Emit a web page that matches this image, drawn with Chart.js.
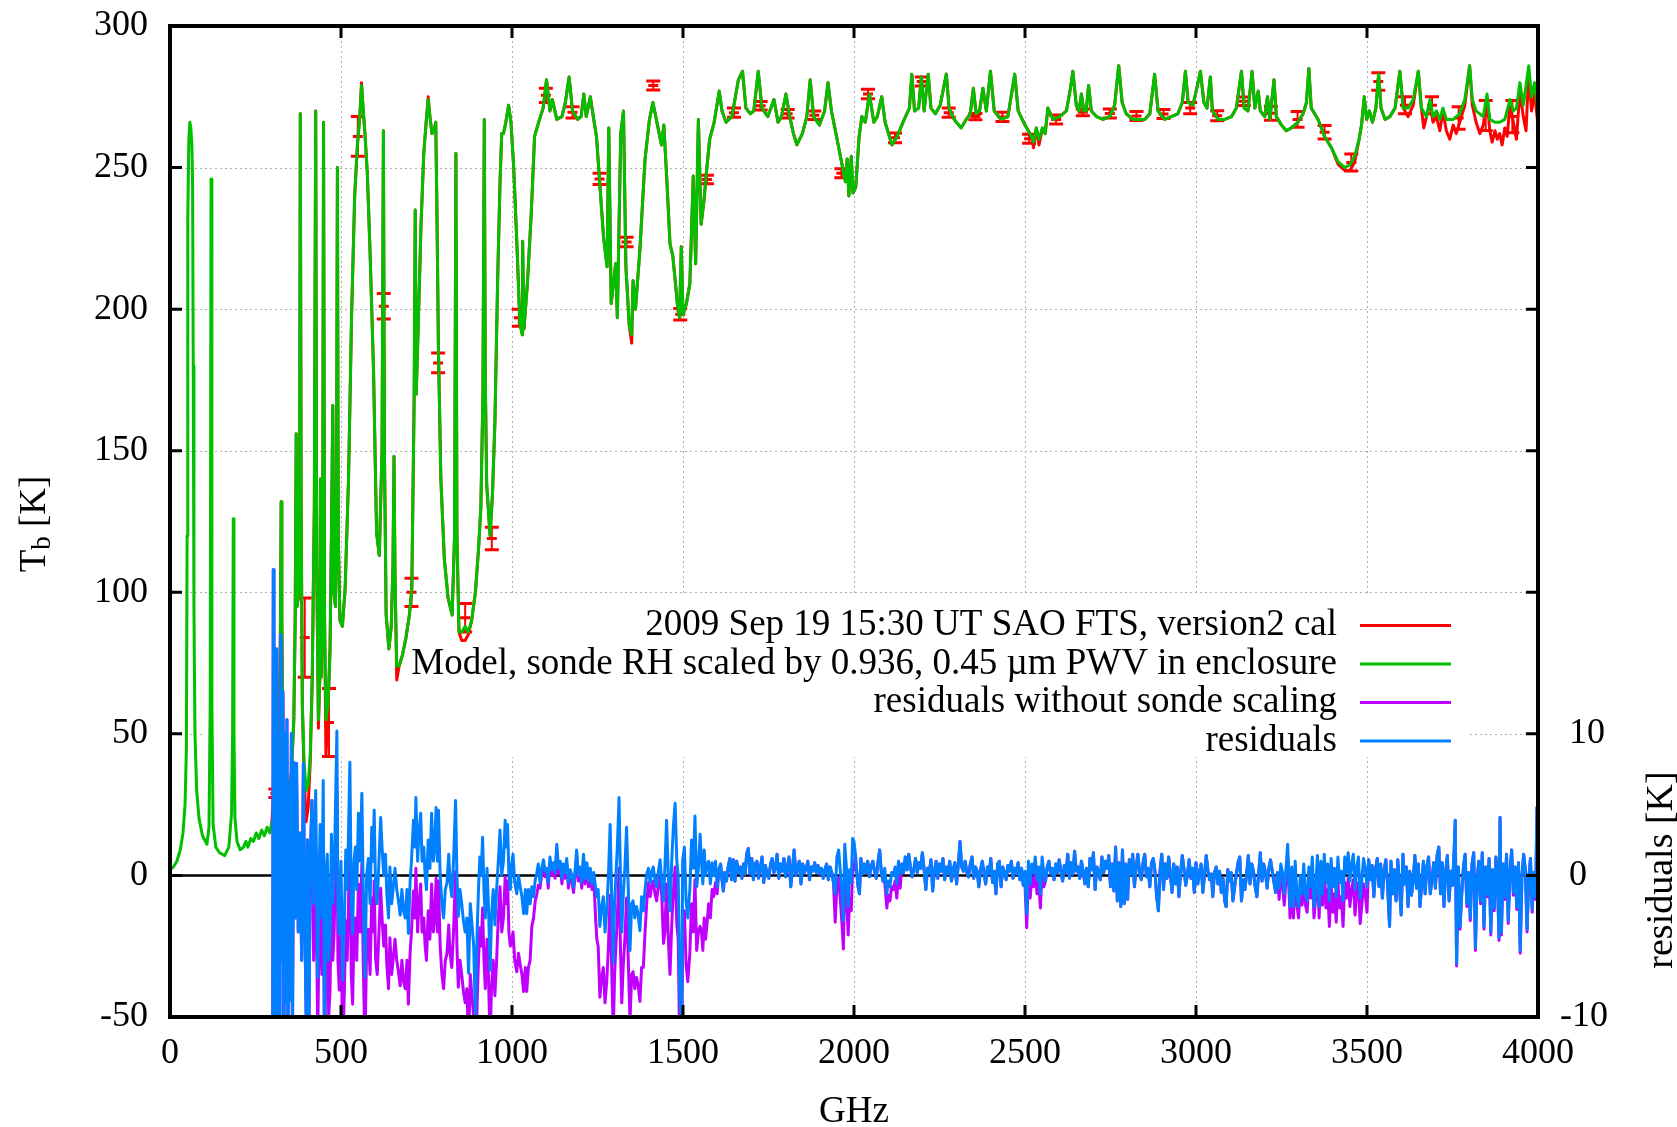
<!DOCTYPE html>
<html><head><meta charset="utf-8">
<script src="https://cdn.jsdelivr.net/npm/chart.js@4.4.0/dist/chart.umd.min.js"></script>
<style>html,body{margin:0;padding:0;background:#fff;}canvas{display:block;}</style>
</head><body>
<canvas id="c" width="1677" height="1127"></canvas>
<script>
// ---------- tick labels ----------
const xTicks = [0,500,1000,1500,2000,2500,3000,3500,4000];
const yTicks = [-50,0,50,100,150,200,250,300];
const y2Ticks = [-10,0,10];
const legendLabels = [
  "2009 Sep 19 15:30 UT SAO FTS, version2 cal",
  "Model, sonde RH scaled by 0.936, 0.45 \u00b5m PWV in enclosure",
  "residuals without sonde scaling",
  "residuals"
];
// ---------- model brightness temperature [GHz, K] ----------
const modelTb = [
[0,2],[10,3],[20,5],[30,9],[38,15],[44,25],[48,45],[50,120],[52,232],[55,260],[58,266],[61,264],[64,258],[66,245],[68,180],[70,95],[73,50],[78,30],[85,20],[95,14],[108,11],[114,17],[117.5,60],[120,246],[122.5,60],[126,18],[134,10],[145,8],[160,7],[172,10],[180,22],[183,50],[185,126],[187,50],[190,20],[196,12],[205,9],[215,10],[222,12],[228,10],[236,13],[244,12],[252,15],[260,13],[268,16],[276,14],[284,17],[292,15],
[298,19],[304,17],[310,22],[315,28],[320,50],[323,90],[325,132],[327,90],[331,40],[338,28],[346,30],[355,36],[362,55],[366,90],[369,156],[372,95],[376,100],[379,140],[381,269],[383.5,130],[387,60],[392,40],[398,30],[404,32],[410,42],[416,70],[422,130],[426,270],[429,110],[434,55],[438,70],[440,140],[442,70],[446,90],[449,266],[452,90],[456,55],[462,60],[468,80],[472,120],[476,166],[479,100],[484,95],[487,140],[489.5,250],[492,120],[497,90],[504,88],[512,101],[522,140],[531,198],[540,240],[548,258],[555,268],[560,279],[564,272],[570,262],[577,248],[585,220],[595,179],[604,121],[612,113],[620,150],[624,263],[627,150],[632,92],[640,80],[647,88],[652,110],[655,148],[658,105],[663,74],[670,74],[680,78],[690,84],[700,92],[707,101],[714,170],[717,235],[720,170],[726,195],[734,230],[742,255],[749,266],[755,274],[760,268],[766,262],[772,263],[777,266],[780,240],[785,185],[792,140],[802,112],[813,98],[825,92],[832,120],[836,255],[839,120],[845,86],[853,86],[863,88],[872,86],[882,90],[893,100],[902,115],[909,130],[915,170],[919,267],[922,175],[926,138],[936,120],[943,135],[950,160],[958,210],[965,245],[970,262],[975,262],[982,266],[990,272],[997,266],
[1005,250],[1015,221],[1023,195],[1030,191],[1031,224],[1035,193],[1045,209],[1056,233],[1066,261],[1078,266],[1091,271],[1101,281],[1111,270],[1118,274],[1131,267],[1146,268],[1156,273],[1167,282],[1177,270],[1192,267],[1202,268],[1210,276],[1217,268],[1229,275],[1239,267],[1247,261],[1258,242],[1268,225],[1278,215],[1283,264],[1290,202],[1303,216],[1308,197],[1318,262],[1326,270],[1333,215],[1343,194],[1350,191],[1354,210],[1361,200],[1374,221],[1389,253],[1402,267],[1412,273],[1422,267],[1437,258],[1444,265],[1453,245],[1462,223],[1470,219],[1478,209],[1485,200],[1490,197],[1495,222],[1500,198],[1510,202],[1520,209],[1530,247],[1537,216],[1545,267],[1553,230],[1561,238],[1569,249],[1578,260],[1591,266],[1606,277],[1614,270],[1626,266],[1643,268],[1662,281],[1674,284],[1684,271],[1697,269],[1707,270],[1720,284],[1731,271],[1748,268],[1766,274],[1778,266],[1788,268],[1801,276],[1812,268],[1823,262],[1833,258],[1849,262],[1862,268],[1872,281],[1882,268],[1899,265],[1914,270],[1924,280],[1934,270],[1949,261],[1965,251],[1975,245],[1980,253],[1985,240],[1992,254],[1997,241],
[2005,243],[2015,261],[2023,268],[2033,266],[2045,276],[2058,266],[2068,268],[2081,275],[2091,266],[2111,258],[2126,261],[2147,267],[2162,271],[2169,283],[2177,270],[2189,271],[2197,282],[2205,270],[2217,283],[2225,271],[2238,269],[2252,272],[2270,283],[2278,271],[2293,267],[2313,264],[2328,267],[2340,269],[2349,278],[2357,269],[2367,270],[2377,278],[2387,270],[2399,284],[2410,270],[2430,267],[2450,268],[2470,283],[2480,270],[2500,265],[2519,261],[2525,259],[2533,264],[2541,260],[2551,264],[2559,262],[2567,271],[2582,267],[2601,268],[2621,270],[2633,278],[2640,284],[2650,272],[2658,270],[2665,276],[2672,270],[2679,270],[2686,279],[2694,270],[2709,268],[2728,267],[2748,268],[2762,272],[2774,286],[2784,273],[2796,269],[2816,267],[2835,267],[2850,267],[2865,269],[2879,283],[2889,270],[2908,267],[2928,268],[2947,269],[2960,273],[2969,284],[2977,273],[2991,272],
[3004,279],[3013,284],[3023,273],[3032,271],[3042,282],[3048,270],[3065,267],[3084,267],[3104,268],[3118,271],[3126,278],[3133,284],[3141,271],[3152,270],[3164,284],[3172,271],[3182,277],[3188,270],[3201,268],[3209,275],[3216,267],[3228,281],[3235,268],[3250,265],[3264,263],[3279,264],[3298,266],[3313,269],[3323,273],[3330,285],[3337,271],[3357,267],[3376,261],[3396,257],[3416,252],[3435,250],[3450,251],[3464,254],[3477,260],[3484,265],[3492,275],[3499,267],[3507,270],[3516,266],[3526,271],[3534,283],[3541,271],[3553,267],[3567,268],[3582,271],[3596,284],[3606,271],[3620,271],[3635,274],[3650,284],[3659,271],[3674,268],[3684,274],[3693,268],[3703,270],[3713,267],[3722,271],[3732,267],[3752,267],[3771,269],[3786,274],[3800,286],[3808,274],[3819,270],[3840,268],[3851,276],[3859,267],[3874,266],[3888,266],[3903,267],[3918,274],[3928,270],[3937,271],[3947,280],[3957,272],[3973,286],[3981,275],[3990,280],[4000,270]
];
// ---------- measured FTS spectrum [GHz, K] ----------
const measuredTb = [
[298,19],[303,29],[308,26],[312,12],[315,-16],[318,14],[320,50],[323,90],[325,132],[327,90],[331,40],[338,28],[346,30],[355,36],[362,55],[366,90],[369,156],[372,95],[376,100],[379,140],[381,269],[383.5,130],[387,60],[392,36],[398,19],[404,24],[410,40],[416,70],[422,130],[426,270],[429,110],[434,52],[438,70],[440,140],[442,70],[446,90],[449,266],[452,90],[456,42],[462,58],[468,80],[472,120],[476,166],[479,100],[484,95],[487,140],[489.5,250],[492,120],[497,90],[504,88],[512,101],[522,140],[531,198],[540,240],[548,258],[555,268],[560,280],[564,272],[570,262],[577,248],[585,220],[595,179],[604,121],[612,113],[620,150],[624,263],[627,150],[632,92],[640,80],[647,88],[652,110],[655,148],[658,105],[663,69],[670,74],[680,78],[690,84],[700,92],[707,101],[714,170],[717,235],[720,170],[726,195],[734,230],[742,255],[749,266],[755,275],[760,268],[766,262],[772,263],[777,266],[780,240],[785,185],[792,140],[802,112],[813,98],[825,92],[832,120],[836,255],[839,120],[845,86],[853,83],[863,83],[872,85],[882,90],[893,100],[902,115],[909,130],[915,170],[919,267],[922,175],[926,138],[936,120],[943,135],[950,160],[958,210],[965,245],[970,262],[975,262],[982,266],[990,272],[997,266],
[1005,250],[1015,221],[1023,195],[1030,191],[1031,224],[1035,193],[1045,209],[1056,233],[1066,261],[1078,266],[1091,271],[1101,281],[1111,270],[1118,274],[1131,267],[1146,268],[1156,273],[1167,282],[1177,270],[1192,267],[1202,268],[1210,276],[1217,268],[1229,275],[1239,267],[1247,261],[1258,242],[1268,225],[1278,215],[1283,264],[1290,202],[1303,216],[1308,197],[1318,262],[1326,270],[1333,215],[1343,194],[1350,188],[1354,210],[1361,200],[1374,221],[1389,253],[1402,267],[1412,273],[1422,267],[1437,258],[1444,265],[1453,245],[1462,223],[1470,219],[1478,209],[1485,200],[1490,197],[1495,222],[1500,198],[1510,202],[1520,209],[1530,247],[1537,216],[1545,267],[1553,230],[1561,238],[1569,249],[1578,260],[1591,266],[1606,277],[1614,270],[1626,266],[1643,268],[1662,281],[1674,284],[1684,271],[1697,269],[1707,270],[1720,284],[1731,271],[1748,268],[1766,274],[1778,266],[1788,268],[1801,276],[1812,268],[1823,262],[1833,258],[1849,262],[1862,268],[1872,281],[1882,268],[1899,265],[1914,270],[1924,280],[1934,270],[1949,261],[1965,251],[1975,245],[1980,253],[1985,240],[1992,254],[1997,241],
[2005,243],[2015,261],[2023,268],[2033,266],[2045,276],[2058,266],[2068,268],[2081,275],[2091,266],[2111,258],[2126,261],[2147,267],[2162,271],[2169,283],[2177,270],[2189,271],[2197,282],[2205,270],[2217,283],[2225,271],[2238,269],[2252,272],[2270,283],[2278,271],[2293,267],[2313,264],[2328,267],[2340,269],[2349,278],[2357,269],[2367,270],[2377,278],[2387,270],[2399,284],[2410,270],[2430,267],[2450,268],[2470,283],[2480,270],[2500,265],[2519,261],[2525,257],[2533,264],[2541,258],[2551,264],[2559,262],[2567,271],[2582,267],[2601,268],[2621,270],[2633,278],[2640,284],[2650,272],[2658,270],[2665,276],[2672,270],[2679,270],[2686,279],[2694,270],[2709,268],[2728,267],[2748,268],[2762,272],[2774,286],[2784,273],[2796,269],[2816,267],[2835,267],[2850,267],[2865,269],[2879,283],[2889,270],[2908,267],[2928,268],[2947,269],[2960,273],[2969,284],[2977,273],[2991,272],
[3004,279],[3013,284],[3023,273],[3032,271],[3042,282],[3048,270],[3065,267],[3084,267],[3104,268],[3118,271],[3126,278],[3133,284],[3141,271],[3152,270],[3164,284],[3172,271],[3182,277],[3188,270],[3201,268],[3209,275],[3216,267],[3228,281],[3235,268],[3250,265],[3264,263],[3279,264],[3298,266],[3313,269],[3323,273],[3330,285],[3337,271],[3357,267],[3376,261],[3396,257],[3416,251],[3435,249],[3450,249],[3464,252],[3477,260],[3484,265],[3492,275],[3499,267],[3507,270],[3516,266],[3526,271],[3534,283],[3541,271],[3553,267],[3567,268],[3582,271],[3596,284],[3606,271],[3620,268],[3635,272],[3650,284],[3659,271],[3666,264],[3674,268],[3684,273],[3693,266],[3703,268],[3713,263],[3722,270],[3732,263],[3742,260],[3752,265],[3761,262],[3771,266],[3786,272],[3800,286],[3808,272],[3819,266],[3830,262],[3840,265],[3851,274],[3859,263],[3866,259],[3874,263],[3881,260],[3888,262],[3895,258],[3903,264],[3910,261],[3918,272],[3928,266],[3937,260],[3947,277],[3957,268],[3965,263],[3973,284],[3981,270],[3990,276],[4000,265]
];
// ---------- measurement error bars [GHz, K, +/-K] ----------
const errorBars = [
[308,29,1.5],[394,84,14],[465,54,12],[549,261,7],[625,201,4.5],[706,100,5],[784,181,3.5],[863,91,5],[941,119,4],[1020,197,3],[1099,275.5,2.5],[1177,269.5,2],[1256,246,2],[1335,223.7,1.7],[1413,279,1.6],[1492,198.2,2],[1570,245.8,1.5],[1649,269.4,1.6],[1727,271.8,1.5],[1806,269,1.5],[1884,268.5,1.5],[1963,248,1.6],[2041,276,1.7],[2120,260.5,1.7],[2198,280.4,1.6],[2277,269.4,1.6],[2355,268,1.1],[2434,267.9,1.6],[2512,260.2,1.6],[2591,267,1.6],[2669,269.5,1.2],[2748,269.1,1.6],[2826,268.2,1.6],[2905,268.9,1.6],[2983,271,2],[3062,268.3,1.8],[3140,273.4,1.5],[3219,269.2,2.5],[3297,267,2.8],[3376,262.5,2.4],[3454,251.8,3],[3533,280.4,3.1],[3611,272,3],[3690,272,3],[3768,267.5,4],[3847,268.4,5.3],[3925,268,5.7]
];
// ---------- residuals (right axis) [GHz, K] ----------
const residuals = [
[300,-15],[302,21.6],[304,-15],[307,12],[309,-15],[312,16],[315,-12],[318,8],[321,-15],[324,17],[327,-6],[330,13],[333,-15],[336,10],[339,-9],[342,11],[345,-15],[348,6.5],[351,-8.8],[355,10],[358,-12],[362,8],[366,-3],[370,7.9],[375,-4],[380,3],[385,-6],[390,7.9],[394,-3],[398,-9.8],[402,2.5],[406,-12],[410,1],[415,5.3],
[420,-2],[426,6],[432,-7.2],[436,0],[439,3.6],[444,-3],[448,6.7],[452,-12],[456,0],[460,1.5],[464,-6],[468,-4.1],[472,2.9],[476,-2],[480,0],[484,5],[488,10.2],[491,-2],[495,-4.1],
[500,1],[505,-7.4],[510,-3],[514,1.8],[518,-1],[522,3],[526,8],[530,-2],[534,-4.1],[538,1],[542,2],[546,-1],[551,4.4],[556,1],[561,5.8],[565,-1],[570,-7.2],[575,0],[580,1.2],[585,-2],[590,3.4],[594,1],[597,4.6],[601,-0.8],[606,-2],[611,1],[616,4.1],[620,2],[625,0],[630,1.5],[634,-1.3],[639,-3],[643,0.6],[648,-2],[653,-0.8],[658,0.5],[663,-1],[668,-1.8],[673,-2.8],[678,-1],[683,-2.5],[688,-3],[693,-1],[697,-4.1],[702,-0.5],[706,1],[712,3.9],[716,2],[719,5.5],[724,1],[728,3],[733,4.4],[737,1],[742,2],[746,0],[750,-1],[755,2.5],[760,0.5],[765,4.4],[770,1],[774,2],[778,4.8],[782,1],[785,4.6],[790,0],[795,-2],[800,-3],[805,-1],[810,-0.5],[815,1.5],[819,-0.5],[824,-1.5],[829,1],[835,5.3],[839,0],[843,-2.9],[848,-1],[853,-2],[858,-3.2],[863,-4],[868,-3],[873,-6.9],[878,-2],[883,-3.5],[888,-5],[893,-9.8],[898,-4],[902,-1],[906,1.3],[910,0],[914,2.7],[918,-1],[922,-3],[927,0.5],[931,-2],[936,-6.7],[940,-3],[945,-1],[950,-3.5],[955,-1],
[960,1],[965,3.2],[970,0],[975,1],[980,3.9],[984,2],[987,3.6],[991,0],[995,-1],
[999,0.8],[1003,1.5],[1008,-0.5],[1014,-1.3],[1019,0],[1024,-0.8],[1029,-1.5],[1034,-2.7],[1039,-1],[1043,-2.7],[1048,-1],[1053,-2],[1058,-0.8],[1063,-1.5],[1068,-0.3],[1072,0.1],[1077,0.8],
[1082,-0.5],[1087,0.5],[1092,1.1],[1097,0.3],[1102,0.5],[1106,-0.5],[1111,1.3],[1116,0.4],[1121,0.9],[1126,0.2],[1131,2.2],[1136,0.5],[1141,1],[1146,-0.2],[1150,0.8],[1155,0.2],[1160,1.2],[1165,-0.5],[1170,0.4],[1175,0],[1180,-0.8],[1185,0.5],[1189,1.8],[1194,0],[1199,0.6],[1204,-0.5],[1209,1.5],[1214,-0.2],[1219,0.9],[1224,-0.4],[1229,0.5],[1234,-0.6],[1239,0.2],
[1244,-0.8],[1248,-1.5],[1252,-1],[1257,-3.6],[1262,-2.2],[1267,-1.5],[1272,-4],[1277,-2.5],[1282,0],[1287,3.6],[1291,-1],[1296,-6.2],[1300,-2],[1304,0.1],[1308,2],[1313,5.5],[1317,0],[1321,-4],[1325,-1.5],[1330,0.5],[1335,3.4],[1340,-1],[1345,-5.3],[1350,-2],[1354,-1.8],[1359,-3],[1364,-2.2],[1369,-2.8],[1374,-3.9],[1379,-1.5],[1384,-2.5],[1389,-1],[1394,0.1],
[1399,0.5],[1404,-0.5],[1408,0.2],[1413,0.6],[1418,-0.3],[1423,-0.8],[1428,0.3],[1433,1.1],[1438,-0.5],
[1443,-1.8],[1447,0.5],[1452,3.9],[1457,0],[1462,-2.5],[1467,1],[1472,3.5],[1477,5.1],[1482,1],[1486,0],[1491,-8.8],[1496,-10.5],[1499,1],[1504,2],[1509,-1.8],[1514,-3],[1520,-1],[1525,2.5],[1530,0.5],[1535,4.2],[1540,-0.8],[1545,0.5],
[1550,2.9],[1554,1],[1558,-0.6],[1562,1.8],[1566,0],[1570,0.8],[1575,1],[1580,-0.6],[1585,0.9],[1590,0],[1595,1],[1600,-0.8],
[1605,0.4],[1610,0.8],[1614,-0.3],[1618,-1.1],[1622,0.2],[1627,-0.4],[1632,0.6],[1637,1.2],[1642,-0.3],[1647,1.1],[1652,-0.4],[1657,1],[1662,0.2],[1667,0.6],[1672,-0.2],[1677,0.8],[1682,0.1],[1686,1.5],[1691,1.9],[1696,0.1],[1701,1.2],[1706,-0.3],[1711,0.8],[1716,1],[1721,-0.2],[1726,0.5],[1731,1.3],[1736,-0.5],[1741,0.7],[1746,0.1],[1751,-0.2],[1756,0.8],[1761,1.2],[1766,0.2],[1771,0.6],[1775,1.5],[1780,-0.2],[1785,0.8],[1790,0.3],[1795,1.2],[1800,-0.1],[1805,0.5],[1810,1.3],[1815,-0.8],[1820,0.4],[1825,1.8],[1830,0],[1835,0.6],[1840,1],[1845,-0.6],[1850,0.8],[1855,0.2],[1860,0.5],[1865,1],[1870,-0.3],[1875,0.6],[1880,0.3],[1885,0.9],[1890,0.2],[1895,0.7],[1900,0.1],[1905,0.5],[1910,-0.2],[1915,0.4],[1920,0.8],[1925,-0.3],[1930,0.6],[1935,0.2],[1940,-0.5],
[1945,-1.3],[1950,1.3],[1955,1.8],[1960,0.3],[1965,-1.5],[1969,-3.2],[1973,2.2],[1978,0.5],[1983,-2.2],[1987,0.4],[1992,-0.5],[1996,2.6],[2000,2.4],
[2004,1.5],[2008,0.2],[2012,-0.8],[2016,-1.3],[2020,1.2],[2025,0.1],[2030,0.8],[2035,0.2],[2040,1],[2045,-0.1],[2050,0.6],[2055,1],[2060,0.3],[2065,-0.2],[2070,0.9],[2075,1.8],[2080,0.2],[2085,-0.4],
[2090,0.5],[2096,-1.3],[2100,-0.4],[2105,-0.8],[2110,0.2],[2115,0],[2120,0.6],[2125,-0.6],[2130,1],[2135,0.1],
[2140,0.8],[2145,0.2],[2150,1.3],[2155,0.4],[2160,1.5],[2165,0.6],[2170,-0.1],[2175,0.4],[2180,1.2],[2185,0.2],[2190,0.9],[2195,0.5],[2200,1.6],[2205,0.4],[2210,-1],[2215,0.5],[2220,0.2],[2225,1.1],[2230,-1.1],[2235,0.3],[2240,1],[2245,-0.2],[2250,0.8],[2255,0.3],[2260,1.2],[2265,-0.3],[2270,0.6],[2275,0.1],[2280,1],[2285,-0.4],[2290,0.4],[2295,0.9],[2300,-0.6],[2305,0.8],[2310,2.4],[2315,0.6],[2320,0.3],[2325,1],[2330,0.2],[2335,-0.1],[2340,0.8],[2345,1.3],[2350,-0.2],[2355,0.6],[2360,0.3],[2365,-0.8],[2370,0.4],[2375,1],[2380,0.2],[2385,-0.6],[2390,0.6],[2395,0.1],[2400,1.2],[2405,-0.5],[2410,0.3],[2415,-1.3],[2420,0.8],[2425,1],[2430,-0.8],[2435,0.6],[2440,0.2],[2445,-0.3],[2450,0.7],[2455,0.3],[2460,1],[2465,-0.2],[2470,0.5],[2475,0.1],[2480,0.9],[2485,-0.3],[2490,0.5],[2495,-0.7],
[2500,0.3],[2505,-2.7],[2510,1],[2515,-0.6],[2520,0.8],[2525,0.2],[2530,1.3],[2535,-0.3],[2540,0.6],[2545,-1.3],[2550,1.3],[2555,0.2],
[2560,-0.4],[2565,0.6],[2570,1],[2575,0.1],[2580,0.5],[2585,-0.3],[2590,0.8],[2595,0.2],[2600,1.1],[2605,0.3],[2610,-0.4],[2615,0.7],[2620,0.2],[2625,1.5],[2630,-0.2],[2635,0.9],[2640,0.1],[2645,1.7],[2650,0.3],[2655,0.6],[2660,-0.2],[2665,1],[2670,0.3],[2675,-0.6],[2680,0.5],[2685,-0.8],[2690,1.2],[2695,0.4],[2700,1.6],[2705,-1],[2710,0.6],[2715,0.3],[2720,-0.3],[2725,1.3],[2730,0.2],[2735,1],[2740,0.5],[2745,1.4],[2750,-0.8],[2755,0.8],[2760,-1.1],[2765,2],[2770,-1.8],[2775,0.9],[2780,-2.2],[2785,1.8],[2790,-2],[2795,0.8],[2800,-1.7],[2805,1.1],[2810,0.1],[2815,1.5],[2820,-0.8],[2825,0.6],[2830,1.5],[2835,0.2],[2840,-0.3],[2845,0.9],[2850,1.5],[2855,-0.1],[2860,0.5],[2865,-0.8],[2870,0.9],[2875,1.2],[2880,0.3],[2885,-1.5],[2890,-2.5],[2895,0.4],[2900,1.5],[2905,-1],[2910,0.8],[2915,-0.2],[2920,1.3],[2925,0.1],[2930,-1.2],[2935,0.8],[2940,-0.6],[2945,0.6],[2950,-1.5],[2955,0.2],[2960,1.4],[2965,0.4],[2970,-0.7],[2975,0.1],[2980,1.1],[2985,-0.2],[2990,0.5],[2995,-1.2],[3000,0.9],[3005,-0.6],[3010,0.2],[3015,0.8],[3020,-1.2],[3025,0.1],[3030,1.4],[3035,0.3],[3040,-0.3],[3045,0.1],[3049,-1.5],[3054,0.2],[3059,0.6],[3064,-0.6],[3069,0.3],[3074,-1.2],[3079,-0.2],[3084,-1.8],[3088,-2.2],[3093,0.4],[3098,-0.4],[3103,0.2],[3108,-1.8],[3113,-0.8],[3118,0.1],[3123,0.9],[3128,1.3],[3133,-1.8],[3138,-0.3],[3143,-1],[3148,0.1],[3153,1.4],[3158,-0.6],[3163,0.8],[3168,0.3],[3173,-0.8],[3178,-1.5],[3183,0.1],[3188,1.6],[3193,-0.4],[3198,0.8],[3203,0.2],[3208,-0.9],[3213,0.5],[3218,1.1],[3223,0.3],[3228,-0.5],[3233,-1.2],[3238,0.2],
[3243,-0.9],[3248,0.8],[3253,0.2],[3258,-1.3],[3263,0.4],[3268,2.2],[3275,-2.2],[3280,0.6],[3285,-2.2],[3290,1],[3295,-1.3],[3300,-2.2],[3305,0],[3310,-1.3],[3315,0.8],[3320,-1.3],[3325,-1.8],[3330,0.6],[3335,-0.8],[3340,1.3],[3345,-2.2],[3350,-0.8],[3355,1.4],[3360,-2.2],[3365,1],[3370,-1.3],[3375,1.5],
[3380,-0.5],[3385,0.8],[3390,-1.8],[3395,1.2],[3400,-0.8],[3405,0.5],[3410,-1.5],[3415,1.3],[3420,-0.5],[3425,0.3],[3430,-1.8],[3435,1.3],[3440,0.2],[3445,1.6],[3450,-0.4],[3455,0.8],[3460,1.5],[3465,-1],[3470,0.6],[3475,1.3],[3480,-1.6],[3485,-0.3],[3490,1.2],[3495,0.5],[3500,-0.8],
[3505,1.1],[3510,-0.3],[3515,0.7],[3520,-1.5],[3525,0.4],[3530,1.2],[3535,-0.8],[3540,0.8],[3545,-1.6],[3550,0.3],[3555,1.1],[3560,-0.6],[3566,-3.6],[3570,1],[3575,-1.3],[3580,0.4],[3585,-1.8],[3590,1.1],[3595,-0.8],[3600,-2.8],[3605,1.5],[3610,-0.6],[3615,0.6],[3620,-2.2],[3625,0.3],[3630,-1.4],[3635,-0.4],[3640,1.4],[3645,-0.9],[3650,0.8],[3655,-2.2],[3660,-0.6],[3665,1],[3670,-1.3],[3675,0.6],[3680,1.3],[3685,-1.3],[3690,-0.3],[3695,0.9],[3700,-0.9],[3705,1.4],[3710,2],[3715,-1.3],[3720,0.9],[3725,-2.2],[3730,0.3],[3735,1.4],[3740,-1.8],[3745,0.3],[3750,-0.7],[3755,1.8],[3758,3.9],[3762,-6.2],[3767,0.6],[3772,-3.6],[3777,-1.3],[3782,0.6],[3787,1.5],[3792,-2],[3797,0.2],[3802,-3],[3807,0.8],[3812,1.6],[3817,-5.1],[3822,-0.2],[3827,1],[3832,-1.8],[3837,1.6],[3842,-3.6],[3847,0.6],[3852,-1.3],[3857,1.2],[3862,-4],[3867,0.4],[3872,-2.3],[3877,1.3],[3882,-0.8],[3886,-4.4],[3889,4.1],[3893,-4],[3898,0.8],[3903,-1.5],[3908,1.5],[3913,-3.2],[3918,0.2],[3923,1.8],[3928,-1.2],[3933,0.6],[3938,-2.2],[3943,0.9],[3948,-5.3],[3953,-0.1],[3958,1.5],[3963,0.4],[3968,-3.8],[3973,-0.2],[3978,1.2],[3983,-2.4],[3988,0.2],[3993,-1.5],[3997,4.8],[4000,-5.8]
];
// ---------- residuals without sonde scaling (right axis) [GHz, K] ----------
const residualsNoScaling = [
[300,-15],[302,21.6],[304,-15],[307,12],[309,-15],[312,16],[315,-12],[318,8],[321,-15],[324,17],[327,-6],[330,13],[333,-15],[336,10],[339,-9],[342,11],[345,-15],[348,6.5],[351,-8.8],[355,10],[358,-12],[362,8],[366,-3],[370,7.9],[375,-4],[380,3],[385,-6],[390,7.9],[394,-3],[398,-9.8],[402,2.5],[406,-12],[410,1],[415,5.3],
[420,-6],[426,2],[432,-11.2],[436,-4],[439,-0.4],[444,-7],[448,2.7],[452,-16],[456,-4],[460,-2.5],[464,-10],[468,-8.1],[472,-1.1],[476,-6],[480,-4],[484,1],[488,6.2],[491,-6],[495,-8.1],
[500,-4],[505,-12.4],[510,-8],[514,-3.2],[518,-6],[522,-2],[526,3],[530,-7],[534,-9.1],[538,-4],[542,-3],[546,-6],[551,-0.6],[556,-4],[561,0.8],[565,-6],[570,-12.2],[575,-5],[580,-3.8],[585,-7],[590,-1.6],[594,-4],[597,-0.4],[601,-5.8],[606,-7],[611,-4],[616,-0.9],[620,-3],[625,-5],[630,-3.5],[634,-6.3],[639,-8],[643,-4.4],[648,-7],[653,-5.8],[658,-4.5],[663,-6],[668,-6.8],[673,-7.8],[678,-6],[683,-7.5],[688,-8],[693,-6],[697,-9.1],[702,-5.5],[706,-4],[712,-1.1],[716,-3],[719,0.5],[724,-4],[728,-2],[733,-0.6],[737,-4],[742,-3],[746,-5],[750,-6],[755,-2.5],[760,-4.5],[765,-0.6],[770,-4],[774,-3],[778,-0.2],[782,-4],[785,-0.4],[790,-5],[795,-7],[800,-8],[805,-6],[810,-5.5],[815,-3.5],[819,-5.5],[824,-6.5],[829,-4],[835,0.3],[839,-5],[843,-7.9],[848,-6],[853,-7],[858,-8.2],[863,-9],[868,-8],[873,-11.9],[878,-7],[883,-8.5],[888,-10],[893,-14.8],[898,-9],[902,-6],[906,-3.7],[910,-5],[914,-2.3],[918,-6],[922,-8],[927,-4.5],[931,-7],[936,-11.7],[940,-8],[945,-6],[950,-8.5],[955,-6],
[960,-3],[965,-0.8],[970,-4],[975,-3],[980,-0.1],[984,-2],[987,-0.4],[991,-4],[995,-5],
[999,-4.7],[1003,-4],[1008,-6],[1014,-6.8],[1019,-5.5],[1024,-6.3],[1029,-7],[1034,-8.2],[1039,-6.5],[1043,-8.2],[1048,-6.5],[1053,-6],[1058,-3.6],[1063,-3],[1068,-1.8],[1072,-1.4],[1077,-0.7],
[1082,-0.9],[1087,0.1],[1092,0.7],[1097,-0.1],[1102,0.1],[1106,-0.9],[1111,0.9],[1116,0],[1121,0.5],[1126,-0.2],[1131,1.8],[1136,0.1],[1141,0.6],[1146,-0.6],[1150,0.4],[1155,-0.2],[1160,0.8],[1165,-0.9],[1170,0],[1175,-0.4],[1180,-1.2],[1185,0.1],[1189,1.4],[1194,-0.4],[1199,0.2],[1204,-0.9],[1209,1.1],[1214,-0.6],[1219,0.5],[1224,-0.8],[1229,0.1],[1234,-1],[1239,-0.2],
[1244,-2.8],[1248,-4.5],[1252,-5],[1257,-8.6],[1262,-7.2],[1267,-6.5],[1272,-9],[1277,-7.5],[1282,-5],[1287,-1.4],[1291,-6],[1296,-11.2],[1300,-7],[1304,-4.9],[1308,-3],[1313,0.5],[1317,-5],[1321,-9],[1325,-6.5],[1330,-4.5],[1335,-1.6],[1340,-6],[1345,-10.3],[1350,-7],[1354,-6.8],[1359,-8],[1364,-7.2],[1369,-7.8],[1374,-8.9],[1379,-6.5],[1384,-6.5],[1389,-4],[1394,-1.9],
[1399,-0.5],[1404,-1.5],[1408,-0.8],[1413,-0.4],[1418,-1.3],[1423,-1.8],[1428,-0.7],[1433,0.1],[1438,-1.5],
[1443,-4.8],[1447,-4],[1452,-0.6],[1457,-4.5],[1462,-7],[1467,-3.5],[1472,-1],[1477,0.6],[1482,-3.5],[1486,-4.5],[1491,-13.3],[1496,-15],[1499,-3.5],[1504,-2.5],[1509,-6.3],[1514,-7.5],[1520,-5.5],[1525,-2],[1530,-4],[1535,-0.3],[1540,-5.3],[1545,-4],
[1550,-3.6],[1554,-4],[1558,-5.3],[1562,-3],[1566,-4.5],[1570,-3.5],[1575,-2],[1580,-3],[1585,-1],[1590,-1.5],[1595,-0.5],[1600,-1.3],
[1605,0.4],[1610,0.8],[1614,-0.3],[1618,-1.1],[1622,0.2],[1627,-0.4],[1632,0.6],[1637,1.2],[1642,-0.3],[1647,1.1],[1652,-0.4],[1657,1],[1662,0.2],[1667,0.6],[1672,-0.2],[1677,0.8],[1682,0.1],[1686,1.5],[1691,1.9],[1696,0.1],[1701,1.2],[1706,-0.3],[1711,0.8],[1716,1],[1721,-0.2],[1726,0.5],[1731,1.3],[1736,-0.5],[1741,0.7],[1746,0.1],[1751,-0.2],[1756,0.8],[1761,1.2],[1766,0.2],[1771,0.6],[1775,1.5],[1780,-0.2],[1785,0.8],[1790,0.3],[1795,1.2],[1800,-0.1],[1805,0.5],[1810,1.3],[1815,-0.8],[1820,0.4],[1825,1.8],[1830,0],[1835,0.6],[1840,1],[1845,-0.6],[1850,0.8],[1855,0.2],[1860,0.5],[1865,1],[1870,-0.3],[1875,0.6],[1880,0.3],[1885,0.9],[1890,0.2],[1895,0.7],[1900,0.1],[1905,0.5],[1910,-0.2],[1915,0.4],[1920,0.8],[1925,-0.3],[1930,0.6],[1935,0.2],[1940,-0.5],
[1945,-3.3],[1950,-0.7],[1955,-0.2],[1960,-1.7],[1965,-3.5],[1969,-5.2],[1973,0.2],[1978,-1.5],[1983,-4.2],[1987,-1.6],[1992,-2.5],[1996,0.6],[2000,0.4],
[2004,1.5],[2008,0.2],[2012,-0.8],[2016,-1.3],[2020,1.2],[2025,0.1],[2030,0.8],[2035,0.2],[2040,1],[2045,-0.1],[2050,0.6],[2055,1],[2060,0.3],[2065,-0.2],[2070,0.9],[2075,1.8],[2080,0.2],[2085,-0.4],
[2090,-0.5],[2096,-2.3],[2100,-1.4],[2105,-1.8],[2110,-0.8],[2115,-1],[2120,-0.4],[2125,-1.6],[2130,0],[2135,-0.9],
[2140,0.8],[2145,0.2],[2150,1.3],[2155,0.4],[2160,1.5],[2165,0.6],[2170,-0.1],[2175,0.4],[2180,1.2],[2185,0.2],[2190,0.9],[2195,0.5],[2200,1.6],[2205,0.4],[2210,-1],[2215,0.5],[2220,0.2],[2225,1.1],[2230,-1.1],[2235,0.3],[2240,1],[2245,-0.2],[2250,0.8],[2255,0.3],[2260,1.2],[2265,-0.3],[2270,0.6],[2275,0.1],[2280,1],[2285,-0.4],[2290,0.4],[2295,0.9],[2300,-0.6],[2305,0.8],[2310,2.4],[2315,0.6],[2320,0.3],[2325,1],[2330,0.2],[2335,-0.1],[2340,0.8],[2345,1.3],[2350,-0.2],[2355,0.6],[2360,0.3],[2365,-0.8],[2370,0.4],[2375,1],[2380,0.2],[2385,-0.6],[2390,0.6],[2395,0.1],[2400,1.2],[2405,-0.5],[2410,0.3],[2415,-1.3],[2420,0.8],[2425,1],[2430,-0.8],[2435,0.6],[2440,0.2],[2445,-0.3],[2450,0.7],[2455,0.3],[2460,1],[2465,-0.2],[2470,0.5],[2475,0.1],[2480,0.9],[2485,-0.3],[2490,0.5],[2495,-0.7],
[2500,-0.7],[2505,-3.7],[2510,0],[2515,-1.6],[2520,-0.2],[2525,-0.8],[2530,0.3],[2535,-1.3],[2540,-0.4],[2545,-2.3],[2550,0.3],[2555,-0.8],
[2560,-0.4],[2565,0.6],[2570,1],[2575,0.1],[2580,0.5],[2585,-0.3],[2590,0.8],[2595,0.2],[2600,1.1],[2605,0.3],[2610,-0.4],[2615,0.7],[2620,0.2],[2625,1.5],[2630,-0.2],[2635,0.9],[2640,0.1],[2645,1.7],[2650,0.3],[2655,0.6],[2660,-0.2],[2665,1],[2670,0.3],[2675,-0.6],[2680,0.5],[2685,-0.8],[2690,1.2],[2695,0.4],[2700,1.6],[2705,-1],[2710,0.6],[2715,0.3],[2720,-0.3],[2725,1.3],[2730,0.2],[2735,1],[2740,0.5],[2745,1.4],[2750,-0.8],[2755,0.8],[2760,-1.1],[2765,2],[2770,-1.8],[2775,0.9],[2780,-2.2],[2785,1.8],[2790,-2],[2795,0.8],[2800,-1.7],[2805,1.1],[2810,0.1],[2815,1.5],[2820,-0.8],[2825,0.6],[2830,1.5],[2835,0.2],[2840,-0.3],[2845,0.9],[2850,1.5],[2855,-0.1],[2860,0.5],[2865,-0.8],[2870,0.9],[2875,1.2],[2880,0.3],[2885,-1.5],[2890,-2.5],[2895,0.4],[2900,1.5],[2905,-1],[2910,0.8],[2915,-0.2],[2920,1.3],[2925,0.1],[2930,-1.2],[2935,0.8],[2940,-0.6],[2945,0.6],[2950,-1.5],[2955,0.2],[2960,1.4],[2965,0.4],[2970,-0.7],[2975,0.1],[2980,1.1],[2985,-0.2],[2990,0.5],[2995,-1.2],[3000,0.9],[3005,-0.6],[3010,0.2],[3015,0.8],[3020,-1.2],[3025,0.1],[3030,1.4],[3035,0.3],[3040,-0.3],[3045,0.1],[3049,-1.5],[3054,0.2],[3059,0.6],[3064,-0.6],[3069,0.3],[3074,-1.2],[3079,-0.2],[3084,-1.8],[3088,-2.2],[3093,0.4],[3098,-0.4],[3103,0.2],[3108,-1.8],[3113,-0.8],[3118,0.1],[3123,0.9],[3128,1.3],[3133,-1.8],[3138,-0.3],[3143,-1],[3148,0.1],[3153,1.4],[3158,-0.6],[3163,0.8],[3168,0.3],[3173,-0.8],[3178,-1.5],[3183,0.1],[3188,1.6],[3193,-0.4],[3198,0.8],[3203,0.2],[3208,-0.9],[3213,0.5],[3218,1.1],[3223,0.3],[3228,-0.5],[3233,-1.2],[3238,0.2],
[3243,-1.7],[3248,0],[3253,-0.6],[3258,-2.1],[3263,-0.4],[3268,1.4],[3275,-3],[3280,-0.2],[3285,-3],[3290,0.2],[3295,-2.1],[3300,-3],[3305,-0.8],[3310,-2.1],[3315,0],[3320,-2.1],[3325,-2.6],[3330,-0.2],[3335,-1.6],[3340,0.5],[3345,-3],[3350,-1.6],[3355,0.6],[3360,-3],[3365,0.2],[3370,-2.1],[3375,0.7],
[3380,-2.3],[3385,-1],[3390,-3.6],[3395,-0.6],[3400,-2.6],[3405,-1.3],[3410,-3.3],[3415,-0.5],[3420,-2.3],[3425,-1.5],[3430,-3.6],[3435,-0.5],[3440,-1.6],[3445,-0.2],[3450,-2.2],[3455,-1],[3460,-0.3],[3465,-2.8],[3470,-1.2],[3475,-0.5],[3480,-3.4],[3485,-2.1],[3490,-0.6],[3495,-1.3],[3500,-2.6],
[3505,1.1],[3510,-0.3],[3515,0.7],[3520,-1.5],[3525,0.4],[3530,1.2],[3535,-0.8],[3540,0.8],[3545,-1.6],[3550,0.3],[3555,1.1],[3560,-0.6],[3566,-3.6],[3570,1],[3575,-1.3],[3580,0.4],[3585,-1.8],[3590,1.1],[3595,-0.8],[3600,-2.8],[3605,1.5],[3610,-0.6],[3615,0.6],[3620,-2.2],[3625,0.3],[3630,-1.4],[3635,-0.4],[3640,1.4],[3645,-0.9],[3650,0.8],[3655,-2.2],[3660,-0.6],[3665,1],[3670,-1.3],[3675,0.6],[3680,1.3],[3685,-1.3],[3690,-0.3],[3695,0.9],[3700,-0.9],[3705,1.4],[3710,2],[3715,-1.3],[3720,0.9],[3725,-2.2],[3730,0.3],[3735,1.4],[3740,-1.8],[3745,0.3],[3750,-0.7],[3755,1.8],[3758,3.9],[3762,-6.4],[3767,0.6],[3772,-3.8],[3777,-1.3],[3782,0.6],[3787,1.5],[3792,-2.2],[3797,0.2],[3802,-3.2],[3807,0.8],[3812,1.6],[3817,-5.3],[3822,-0.2],[3827,1],[3832,-2],[3837,1.6],[3842,-3.8],[3847,0.6],[3852,-1.5],[3857,1.2],[3862,-4.2],[3867,0.4],[3872,-2.5],[3877,1.3],[3882,-0.8],[3886,-4.6],[3889,4.1],[3893,-4.2],[3898,0.8],[3903,-1.7],[3908,1.5],[3913,-3.4],[3918,0.2],[3923,1.8],[3928,-1.4],[3933,0.6],[3938,-2.4],[3943,0.9],[3948,-5.5],[3953,-0.1],[3958,1.5],[3963,0.4],[3968,-4],[3973,-0.2],[3978,1.2],[3983,-2.6],[3988,0.2],[3993,-1.7],[3997,4.8],[4000,-6]
];

// ---------- styling / layout ----------
const FONT = '"Liberation Serif","Times New Roman",Times,serif';
const FS = 36;      // tick labels
const FS_TXT = 37;  // legend and axis titles
const COLORS = {data:'#ff0000', model:'#00c000', noscale:'#c000ff', resid:'#0080ff'};
const KEY = {left:204, top:594, right:1469, bottom:757, textRight:1337, sampleL:1360, sampleR:1451, rows:[625.5,664,702.5,741]};

const toXY = a => a.map(p => ({x:p[0], y:p[1]}));

function drawErrorBars(chart){
  const {ctx, scales:{x, y}} = chart;
  ctx.save();
  ctx.strokeStyle = COLORS.data;
  ctx.lineCap = 'butt';
  errorBars.forEach(([f, t, e]) => {
    const px = x.getPixelForValue(f);
    const lo = y.getPixelForValue(t - e), hi = y.getPixelForValue(t + e), mid = y.getPixelForValue(t);
    ctx.lineWidth = 2;
    ctx.beginPath(); ctx.moveTo(px, lo); ctx.lineTo(px, hi); ctx.stroke();
    ctx.lineWidth = 3;
    ctx.beginPath();
    ctx.moveTo(px-7, lo); ctx.lineTo(px+7, lo);
    ctx.moveTo(px-7, hi); ctx.lineTo(px+7, hi);
    ctx.moveTo(px-5, mid); ctx.lineTo(px+5, mid);
    ctx.stroke();
  });
  ctx.restore();
}

const framePlugin = {
  id: 'frame',
  beforeDatasetsDraw(chart){
    const {ctx, chartArea:a, scales:{x, y}} = chart;
    ctx.save();
    ctx.strokeStyle = '#b0b0b0'; ctx.lineWidth = 1; ctx.setLineDash([2,3]);
    ctx.beginPath();
    xTicks.forEach(v => { if (v > 0 && v < 4000) { const p = Math.round(x.getPixelForValue(v)) + 0.5; ctx.moveTo(p, a.top); ctx.lineTo(p, a.bottom); } });
    yTicks.forEach(v => { if (v > -50 && v < 300) { const p = Math.round(y.getPixelForValue(v)) + 0.5; ctx.moveTo(a.left, p); ctx.lineTo(a.right, p); } });
    ctx.stroke();
    ctx.setLineDash([]);
    ctx.fillStyle = '#ffffff';
    ctx.fillRect(KEY.left, KEY.top, KEY.right - KEY.left, KEY.bottom - KEY.top);
    const y0 = y.getPixelForValue(0);
    ctx.strokeStyle = '#000'; ctx.lineWidth = 2.5;
    ctx.beginPath(); ctx.moveTo(a.left, y0); ctx.lineTo(a.right, y0); ctx.stroke();
    ctx.restore();
  },
  afterDatasetDraw(chart, args){
    if (args.index === 3) drawErrorBars(chart);
  },
  afterDatasetsDraw(chart){
    const {ctx, chartArea:a, scales:{x, y}} = chart;
    ctx.save();
    ctx.strokeStyle = '#000'; ctx.lineWidth = 4;
    ctx.strokeRect(a.left, a.top, a.right - a.left, a.bottom - a.top);
    ctx.lineWidth = 3; ctx.beginPath();
    xTicks.forEach(v => { const p = x.getPixelForValue(v);
      ctx.moveTo(p, a.bottom); ctx.lineTo(p, a.bottom - 12);
      ctx.moveTo(p, a.top); ctx.lineTo(p, a.top + 12); });
    yTicks.forEach(v => { const p = y.getPixelForValue(v);
      ctx.moveTo(a.left, p); ctx.lineTo(a.left + 12, p);
      ctx.moveTo(a.right, p); ctx.lineTo(a.right - 12, p); });
    ctx.stroke();
    ctx.font = FS_TXT + 'px ' + FONT; ctx.fillStyle = '#000';
    ctx.textAlign = 'right'; ctx.textBaseline = 'middle';
    const cols = [COLORS.data, COLORS.model, COLORS.noscale, COLORS.resid];
    legendLabels.forEach((t, i) => {
      const ry = KEY.rows[i];
      ctx.fillText(t, KEY.textRight, ry);
      ctx.strokeStyle = cols[i]; ctx.lineWidth = 3;
      ctx.beginPath(); ctx.moveTo(KEY.sampleL, ry); ctx.lineTo(KEY.sampleR, ry); ctx.stroke();
    });
    ctx.restore();
  },
  afterDraw(chart){
    const {ctx} = chart;
    ctx.save();
    ctx.fillStyle = '#000'; ctx.textBaseline = 'middle';
    ctx.font = FS_TXT + 'px ' + FONT; ctx.textAlign = 'center';
    ctx.fillText('GHz', 854, 1112);
    ctx.save();
    ctx.translate(35, 524); ctx.rotate(-Math.PI/2);
    ctx.textAlign = 'left';
    ctx.font = FS_TXT + 'px ' + FONT; const wT = ctx.measureText('T').width; const wK = ctx.measureText(' [K]').width;
    ctx.font = '27px ' + FONT; const wb = ctx.measureText('b').width;
    const sx = -(wT + wb + wK) / 2;
    ctx.font = FS_TXT + 'px ' + FONT; ctx.fillText('T', sx, 0);
    ctx.font = '27px ' + FONT; ctx.fillText('b', sx + wT, 8);
    ctx.font = FS_TXT + 'px ' + FONT; ctx.fillText(' [K]', sx + wT + wb, 0);
    ctx.restore();
    ctx.save();
    ctx.translate(1662, 870); ctx.rotate(-Math.PI/2);
    ctx.textAlign = 'center'; ctx.font = '38px ' + FONT;
    ctx.fillText('residuals [K]', 0, 0);
    ctx.restore();
    ctx.restore();
  }
};

const tickFont = {family: FONT, size: FS};
new Chart(document.getElementById('c').getContext('2d'), {
  type: 'line',
  data: {datasets: [
    {label: legendLabels[3], data: toXY(residuals), yAxisID: 'y2', borderColor: COLORS.resid, borderWidth: 3},
    {label: legendLabels[2], data: toXY(residualsNoScaling), yAxisID: 'y2', borderColor: COLORS.noscale, borderWidth: 3},
    {label: legendLabels[1], data: toXY(modelTb), yAxisID: 'y', borderColor: COLORS.model, borderWidth: 3},
    {label: legendLabels[0], data: toXY(measuredTb), yAxisID: 'y', borderColor: COLORS.data, borderWidth: 3}
  ]},
  options: {
    responsive: false, animation: false, devicePixelRatio: 1,
    events: [],
    elements: {point: {radius: 0, hoverRadius: 0}, line: {tension: 0, borderJoinStyle: 'round', fill: false}},
    datasets: {line: {clip: 0}},
    layout: {padding: {top: 26, left: 0, right: 0, bottom: 0}},
    plugins: {legend: {display: false}, tooltip: {enabled: false}},
    scales: {
      x: {type: 'linear', min: 0, max: 4000,
          afterFit(s){ s.height = 110; },
          afterBuildTicks(s){ s.ticks = xTicks.map(v => ({value: v})); },
          grid: {display: false, drawTicks: true, tickLength: 15}, border: {display: false},
          ticks: {font: tickFont, color: '#000', padding: 0, maxRotation: 0, autoSkip: false,
                  callback: v => String(v)}},
      y: {type: 'linear', position: 'left', min: -50, max: 300,
          afterFit(s){ s.width = 170; },
          afterBuildTicks(s){ s.ticks = yTicks.map(v => ({value: v})); },
          grid: {display: false, drawTicks: true, tickLength: 22}, border: {display: false},
          ticks: {font: tickFont, color: '#000', padding: 0, autoSkip: false,
                  callback: v => String(v)}},
      y2: {type: 'linear', position: 'right', min: -10, max: 60,
          afterFit(s){ s.width = 139; },
          afterBuildTicks(s){ s.ticks = y2Ticks.map(v => ({value: v})); },
          grid: {display: false, drawTicks: true, tickLength: 22}, border: {display: false},
          ticks: {font: tickFont, color: '#000', padding: 0, autoSkip: false,
                  callback: v => (v < 0 ? String(v) : ' ' + v)}}
    }
  },
  plugins: [framePlugin]
});
</script>
</body></html>
